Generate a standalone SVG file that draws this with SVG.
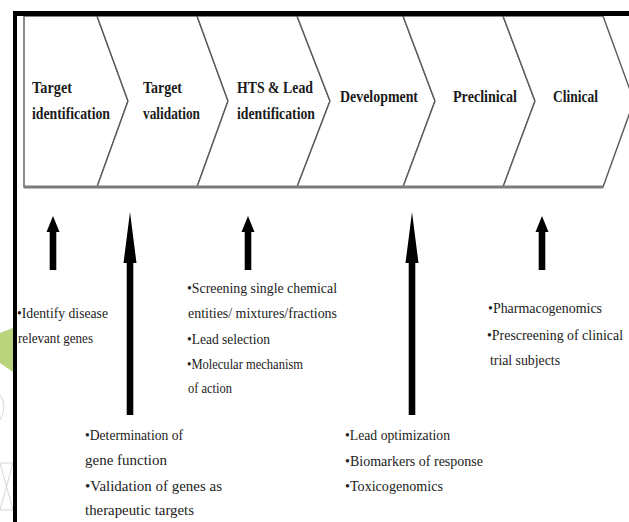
<svg xmlns="http://www.w3.org/2000/svg" width="629" height="522" viewBox="0 0 629 522">
<style>
.stage{fill:#fff;stroke:#5a5a5a;stroke-width:1.4;stroke-linejoin:miter}
.lbl{font-family:'Liberation Serif','DejaVu Serif',serif;font-weight:bold;font-size:16px;fill:#1a1a1a}
.txt{font-family:'Liberation Serif','DejaVu Serif',serif;font-size:15.5px;fill:#222}
.arr{fill:#000}
.deco{fill:none;stroke:#d6d6d6;stroke-width:1}
</style>
<rect x="0" y="0" width="629" height="522" fill="#fff"/>
<g id="decoration">
<polygon points="0,333 13,328 13,372 0,363" fill="#b9d47c"/>
<path class="deco" d="M0,463 L13,463 M0,463 L13,510 M13,463 L0,510 M0,510 L13,510"/>
<path class="deco" d="M0,395 Q8,405 0,420"/>
</g>
<g id="stage-target-identification">
<polygon class="stage" points="24,16 97,16 128,101 97,187 24,187"/>
<text class="lbl" x="32" y="93" textLength="40" lengthAdjust="spacingAndGlyphs">Target</text>
<text class="lbl" x="32" y="119" textLength="78" lengthAdjust="spacingAndGlyphs">identification</text>
</g>
<g id="stage-target-validation">
<polygon class="stage" points="97,16 197,16 228,101 197,187 97,187 128,101"/>
<text class="lbl" x="143" y="93" textLength="39" lengthAdjust="spacingAndGlyphs">Target</text>
<text class="lbl" x="143" y="119" textLength="57" lengthAdjust="spacingAndGlyphs">validation</text>
</g>
<g id="stage-hts-lead">
<polygon class="stage" points="197,16 297,16 330,101 297,187 197,187 228,101"/>
<text class="lbl" x="237" y="93" textLength="76" lengthAdjust="spacingAndGlyphs">HTS &amp; Lead</text>
<text class="lbl" x="237" y="119" textLength="78" lengthAdjust="spacingAndGlyphs">identification</text>
</g>
<g id="stage-development">
<polygon class="stage" points="297,16 403,16 435,101 403,187 297,187 330,101"/>
<text class="lbl" x="340" y="102" textLength="78" lengthAdjust="spacingAndGlyphs">Development</text>
</g>
<g id="stage-preclinical">
<polygon class="stage" points="403,16 503,16 535,101 503,187 403,187 435,101"/>
<text class="lbl" x="453" y="102" textLength="64" lengthAdjust="spacingAndGlyphs">Preclinical</text>
</g>
<g id="stage-clinical">
<polygon class="stage" points="503,16 603,16 634,101 603,187 503,187 535,101"/>
<text class="lbl" x="553" y="102" textLength="45" lengthAdjust="spacingAndGlyphs">Clinical</text>
</g>
<line x1="24" y1="187" x2="603" y2="187" stroke="#7a7a7a" stroke-width="3"/>
<g id="frame">
<rect x="13" y="11" width="616" height="5" fill="#000"/>
<rect x="13" y="11" width="4" height="511" fill="#000"/>
</g>
<g id="connectors">
<polygon class="arr" points="53,216 59.5,232 56.3,232 56.3,270 49.7,270 49.7,232 46.5,232"/>
<polygon class="arr" points="130,212 136.5,263 133.3,263 133.3,415 126.7,415 126.7,263 123.5,263"/>
<polygon class="arr" points="248,216 254.5,232 251.3,232 251.3,270 244.7,270 244.7,232 241.5,232"/>
<polygon class="arr" points="412,212 418.5,263 415.3,263 415.3,415 408.7,415 408.7,263 405.5,263"/>
<polygon class="arr" points="542,216 548.5,232 545.3,232 545.3,270 538.7,270 538.7,232 535.5,232"/>
</g>
<g id="text-target-identification">
<text class="txt" x="17" y="318" textLength="91" lengthAdjust="spacingAndGlyphs">•Identify disease</text>
<text class="txt" x="18" y="343" textLength="75" lengthAdjust="spacingAndGlyphs">relevant genes</text>
</g>
<g id="text-target-validation">
<text class="txt" x="85" y="440" textLength="98" lengthAdjust="spacingAndGlyphs">•Determination of</text>
<text class="txt" x="85" y="465" textLength="82" lengthAdjust="spacingAndGlyphs">gene function</text>
<text class="txt" x="85" y="491" textLength="137" lengthAdjust="spacingAndGlyphs">•Validation of genes as</text>
<text class="txt" x="85" y="515" textLength="109" lengthAdjust="spacingAndGlyphs">therapeutic targets</text>
</g>
<g id="text-hts-lead">
<text class="txt" x="187" y="293" textLength="150" lengthAdjust="spacingAndGlyphs">•Screening single chemical</text>
<text class="txt" x="188" y="318" textLength="149" lengthAdjust="spacingAndGlyphs">entities/ mixtures/fractions</text>
<text class="txt" x="187" y="344" textLength="83" lengthAdjust="spacingAndGlyphs">•Lead selection</text>
<text class="txt" x="187" y="369" textLength="116" lengthAdjust="spacingAndGlyphs">•Molecular mechanism</text>
<text class="txt" x="188" y="393" textLength="44" lengthAdjust="spacingAndGlyphs">of action</text>
</g>
<g id="text-development">
<text class="txt" x="345" y="440" textLength="105" lengthAdjust="spacingAndGlyphs">•Lead optimization</text>
<text class="txt" x="345" y="466" textLength="138" lengthAdjust="spacingAndGlyphs">•Biomarkers of response</text>
<text class="txt" x="345" y="491" textLength="98" lengthAdjust="spacingAndGlyphs">•Toxicogenomics</text>
</g>
<g id="text-clinical">
<text class="txt" x="488" y="313" textLength="114" lengthAdjust="spacingAndGlyphs">•Pharmacogenomics</text>
<text class="txt" x="487" y="340" style="font-size:14px" textLength="136" lengthAdjust="spacingAndGlyphs">•Prescreening of clinical</text>
<text class="txt" x="490" y="365" textLength="70" lengthAdjust="spacingAndGlyphs">trial subjects</text>
</g>
</svg>
